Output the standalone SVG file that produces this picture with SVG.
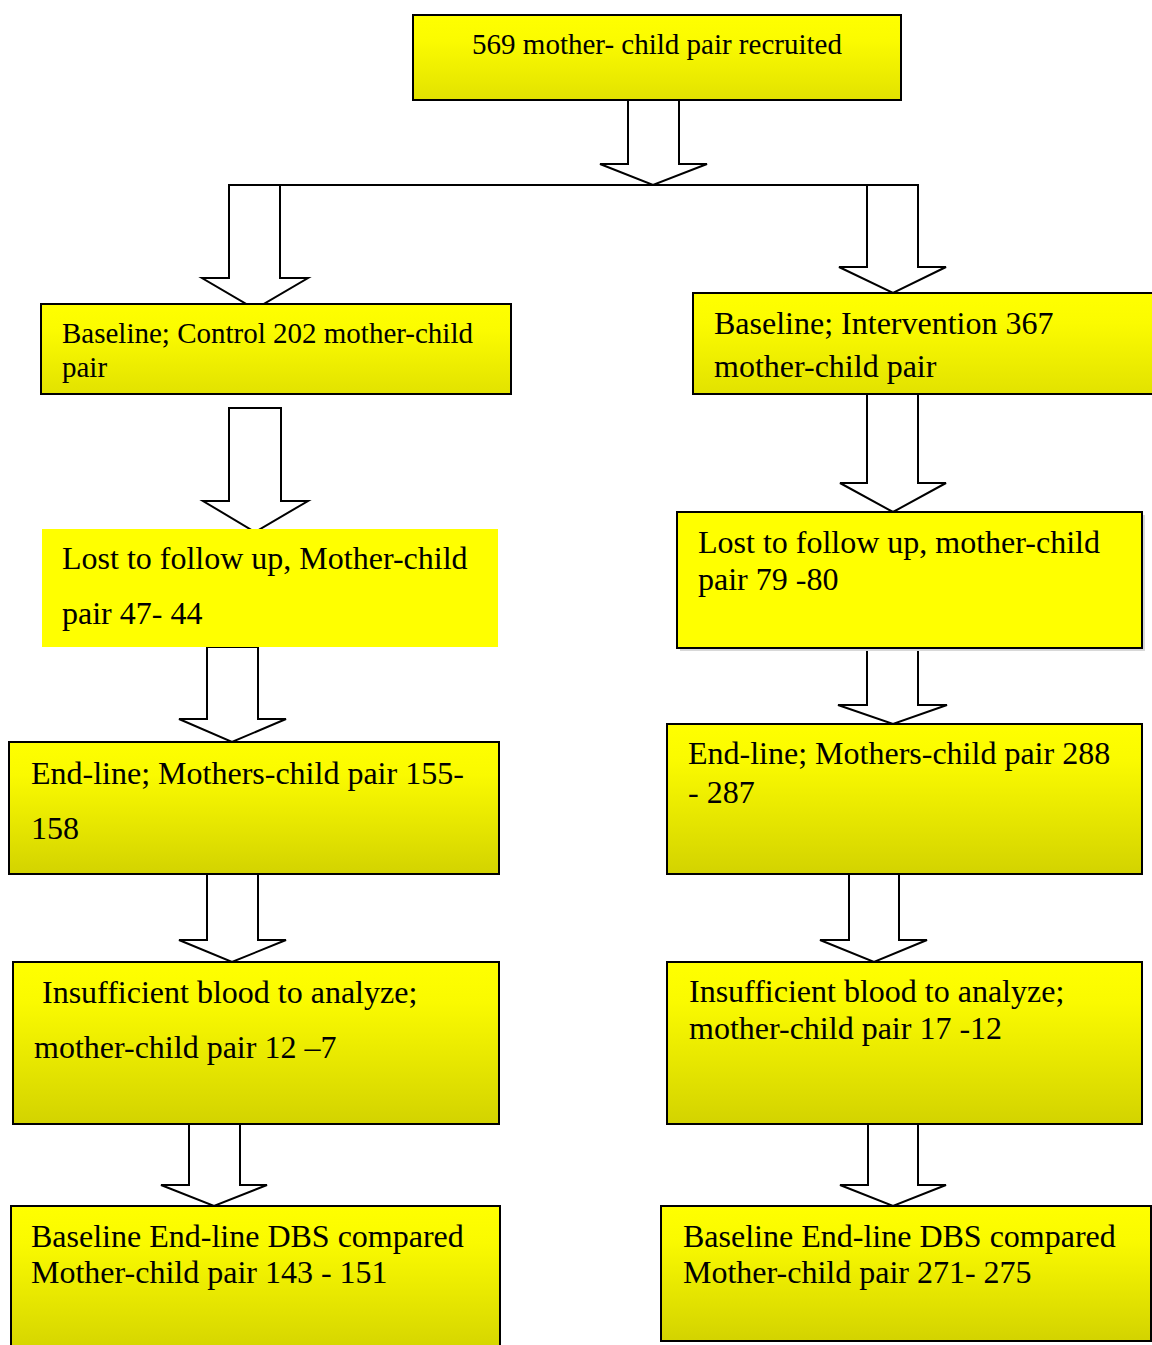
<svg xmlns="http://www.w3.org/2000/svg" width="1152" height="1345" viewBox="0 0 1152 1345">
<defs>
<linearGradient id="gShort" x1="0" y1="0" x2="0" y2="1">
<stop offset="0" stop-color="#ffff00"/>
<stop offset="0.3" stop-color="#fbfb00"/>
<stop offset="1" stop-color="#e2e200"/>
</linearGradient>
<linearGradient id="gTall" x1="0" y1="0" x2="0" y2="1">
<stop offset="0" stop-color="#ffff00"/>
<stop offset="0.25" stop-color="#fafa00"/>
<stop offset="1" stop-color="#d3d300"/>
</linearGradient>
</defs>
<style>
.box{stroke:#000;stroke-width:2}
.shortg{fill:url(#gShort)}
.tallg{fill:url(#gTall)}
.flat{fill:#ffff00}
.arrow{fill:#fff;stroke:#000;stroke-width:2;stroke-linejoin:miter}
.t{font-family:"Liberation Serif","Times New Roman",serif;fill:#000}
.s32{font-size:32px}
.s29{font-size:29px}
</style>
<g id="connectors">
<polygon class="arrow" points="628,100 679,100 679,164 707,164 653,185 600,164 628,164"/>
<line x1="229" y1="185" x2="918" y2="185" stroke="#000" stroke-width="2"/>
<polygon class="arrow" points="229,185 280,185 280,278 308,278 255,309 202,278 229,278"/>
<polygon class="arrow" points="867,185 918,185 918,267 946,267 893,293 839,267 867,267"/>
<polygon class="arrow" points="229,408 281,408 281,501 308,501 255,532 203,501 229,501"/>
<polygon class="arrow" points="867,394 918,394 918,483 946,483 893,512 840,483 867,483"/>
<polygon class="arrow" points="207,647 258,647 258,719 286,719 232,742 179,719 207,719"/>
<polygon class="arrow" points="867,648 918,648 918,705 947,705 893,724 838,705 867,705"/>
<polygon class="arrow" points="207,874 258,874 258,940 286,940 232,962 179,940 207,940"/>
<polygon class="arrow" points="849,874 899,874 899,940 927,940 874,962 820,940 849,940"/>
<polygon class="arrow" points="189,1124 240,1124 240,1185 267,1185 214,1206 161,1185 189,1185"/>
<polygon class="arrow" points="868,1124 918,1124 918,1185 946,1185 893,1206 840,1185 868,1185"/>
</g>
<g id="recruited">
<rect class="box shortg" x="413" y="15" width="488" height="85"/>
<text class="t s29" x="657" y="54" text-anchor="middle">569 mother- child pair recruited</text>
</g>
<g id="baseline-control">
<rect class="box shortg" x="41" y="304" width="470" height="90"/>
<text class="t s29" x="62" y="343">Baseline; Control 202 mother-child</text>
<text class="t s29" x="62" y="377">pair</text>
</g>
<g id="baseline-intervention">
<rect class="box shortg" x="693" y="293" width="470" height="101"/>
<text class="t s32" x="714" y="334">Baseline; Intervention 367</text>
<text class="t s32" x="714" y="377">mother-child pair</text>
</g>
<g id="lost-control">
<rect class="flat" x="42" y="529" width="456" height="118"/>
<text class="t s32" x="62" y="569">Lost to follow up, Mother-child</text>
<text class="t s32" x="62" y="624">pair 47- 44</text>
</g>
<g id="lost-intervention">
<rect x="680" y="515" width="465" height="136" fill="#d8d8d8"/>
<rect class="box flat" x="677" y="512" width="465" height="136"/>
<text class="t s32" x="698" y="553">Lost to follow up, mother-child</text>
<text class="t s32" x="698" y="590">pair 79 -80</text>
</g>
<g id="endline-control">
<rect class="box tallg" x="9" y="742" width="490" height="132"/>
<text class="t s32" x="31" y="784">End-line; Mothers-child pair 155-</text>
<text class="t s32" x="31" y="839">158</text>
</g>
<g id="endline-intervention">
<rect class="box tallg" x="667" y="724" width="475" height="150"/>
<text class="t s32" x="688" y="764">End-line; Mothers-child pair 288</text>
<text class="t s32" x="688" y="803">- 287</text>
</g>
<g id="insufficient-control">
<rect class="box tallg" x="13" y="962" width="486" height="162"/>
<text class="t s32" x="42" y="1003">Insufficient blood to analyze;</text>
<text class="t s32" x="34" y="1058">mother-child pair 12 –7</text>
</g>
<g id="insufficient-intervention">
<rect class="box tallg" x="667" y="962" width="475" height="162"/>
<text class="t s32" x="689" y="1002">Insufficient blood to analyze;</text>
<text class="t s32" x="689" y="1039">mother-child pair 17 -12</text>
</g>
<g id="dbs-control">
<rect class="box tallg" x="11" y="1206" width="489" height="150"/>
<text class="t s32" x="31" y="1247">Baseline End-line DBS compared</text>
<text class="t s32" x="31" y="1283">Mother-child pair 143 - 151</text>
</g>
<g id="dbs-intervention">
<rect class="box tallg" x="661" y="1206" width="490" height="135"/>
<text class="t s32" x="683" y="1247">Baseline End-line DBS compared</text>
<text class="t s32" x="683" y="1283">Mother-child pair 271- 275</text>
</g>
</svg>
